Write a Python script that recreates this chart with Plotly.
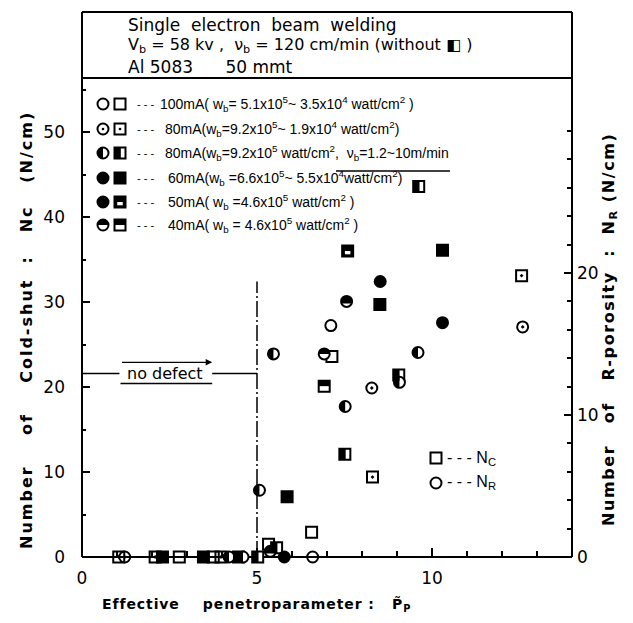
import numpy as np
import plotly.graph_objects as go

# ---------------------------------------------------------------------------
# Data: effective penetroparameter vs. defect counts
# squares -> cold-shut Nc (left axis), circles -> R-porosity Nr (right axis)
# ---------------------------------------------------------------------------
# 100 mA
p_nc_100 = [7.14, 6.56, 5.33, 2.78, 3.75]
nc_100 = [23.6, 2.9, 1.5, 0.0, 0.0]
p_nr_100 = [7.11, 6.59]
nr_100 = [16.3, 0.0]
# 80 mA (wb = 9.2e5 ~ 1.9e4)
p_nc_80 = [12.56, 8.30, 1.05, 2.09, 3.97]
nc_80 = [33.1, 9.4, 0.0, 0.0, 0.0]
p_nr_80 = [12.59, 8.28, 1.22]
nr_80 = [16.2, 11.9, 0.0]
# 80 mA, variable welding speed
p_nc_80v = [9.62, 9.05, 7.51, 5.56, 5.02, 4.47]
nc_80v = [43.6, 21.4, 12.1, 1.1, 0.0, 0.0]
p_nr_80v = [5.47, 9.60, 7.52, 5.07, 9.07, 4.20, 4.60]
nr_80v = [14.3, 14.4, 10.6, 4.7, 12.3, 0.0, 0.0]
# 60 mA
p_nc_60 = [8.51, 10.30, 5.86, 3.47, 2.30]
nc_60 = [29.7, 36.1, 7.1, 0.0, 0.0]
p_nr_60 = [8.52, 10.30, 5.78]
nr_60 = [19.4, 16.5, 0.0]
# 50 mA
p_nc_50 = [7.59]
nc_50 = [36.0]
p_nr_50 = [7.56, 5.38]
nr_50 = [18.0, 0.4]
# 40 mA
p_nc_40 = [6.92]
nc_40 = [20.1]
p_nr_40 = [6.92]
nr_40 = [14.3]

legend_texts = [
    "100mA( w<sub>b</sub>= 5.1x10<sup>5</sup>~ 3.5x10<sup>4</sup> watt/cm<sup>2</sup> )",
    "80mA(w<sub>b</sub>=9.2x10<sup>5</sup>~ 1.9x10<sup>4</sup> watt/cm<sup>2</sup>)",
    "80mA(w<sub>b</sub>=9.2x10<sup>5</sup> watt/cm<sup>2</sup>,  ν<sub>b</sub>=1.2~10m/min",
    "60mA(w<sub>b</sub> =6.6x10<sup>5</sup>~ 5.5x10<sup>4</sup>watt/cm<sup>2</sup>)",
    "50mA( w<sub>b</sub> =4.6x10<sup>5</sup> watt/cm<sup>2</sup> )",
    "40mA( w<sub>b</sub> = 4.6x10<sup>5</sup> watt/cm<sup>2</sup> )",
]

no_defect_p = 5.0       # penetroparameter limit of sound welds
no_defect_nc = 21.6     # level of the "no defect" marker line
limit_top_nc = 32.4     # upper end of the limit line

series = [
    dict(style="open", pc=p_nc_100, nc=nc_100, pr=p_nr_100, nr=nr_100),
    dict(style="dot", pc=p_nc_80, nc=nc_80, pr=p_nr_80, nr=nr_80),
    dict(style="half", pc=p_nc_80v, nc=nc_80v, pr=p_nr_80v, nr=nr_80v),
    dict(style="full", pc=p_nc_60, nc=nc_60, pr=p_nr_60, nr=nr_60),
    dict(style="e", pc=p_nc_50, nc=nc_50, pr=p_nr_50, nr=nr_50),
    dict(style="f", pc=p_nc_40, nc=nc_40, pr=p_nr_40, nr=nr_40),
]

# ---------------------------------------------------------------------------
# Geometry
# ---------------------------------------------------------------------------
W, H = 633, 623
ML, MR, MT, MB = 82, 61, 12, 58
PW, PH = W - ML - MR, H - MT - MB
ZERO_PAD = 8                      # px between plot bottom and the p-axis
NC_PX, NR_PX = 8.5, 14.2          # px per unit on left / right axes
YL = [-ZERO_PAD / NC_PX, (PH - ZERO_PAD) / NC_PX]
YR = [-ZERO_PAD / NR_PX, (PH - ZERO_PAD) / NR_PX]
AX_POS = ZERO_PAD / PH

FONT = "DejaVu Sans"
LEG_FONT = "Liberation Sans"
R = 5.5          # marker half size (px)
MSIZE = 11


def fx(px):
    return (px - ML) / PW


def fy(py):
    return (H - MB - py) / PH


def arc_path(r, t0, t1, n=28):
    ts = np.linspace(t0, t1, n)
    pts = " L ".join(f"{r*np.cos(t):.2f},{r*np.sin(t):.2f}" for t in ts)
    return "M " + pts + " Z"


def pix(kind, xref, yref, xa, ya, **kw):
    d = dict(type=kind, xref=xref, yref=yref, xsizemode="pixel",
             ysizemode="pixel", xanchor=xa, yanchor=ya, layer="above")
    d.update(kw)
    return d


def fills(style, shape, xref, yref, xa, ya):
    """Black / white inner parts of the partially filled symbols."""
    out = []
    blk = dict(fillcolor="black", line=dict(width=0))
    if shape == "circle":
        if style == "half":
            out.append(pix("path", xref, yref, xa, ya,
                           path=arc_path(R, np.pi / 2, 3 * np.pi / 2), **blk))
        elif style == "e":
            a = np.arcsin(0.4)
            out.append(pix("path", xref, yref, xa, ya,
                           path=arc_path(R, -a, np.pi + a), **blk))
        elif style == "f":
            out.append(pix("path", xref, yref, xa, ya,
                           path=arc_path(R, 0, np.pi), **blk))
    else:
        if style == "half":
            out.append(pix("rect", xref, yref, xa, ya, x0=-R, x1=0.15 * R,
                           y0=-R, y1=R, **blk))
        elif style == "e":
            out.append(pix("rect", xref, yref, xa, ya, x0=-0.5 * R, x1=0.5 * R,
                           y0=-0.6 * R, y1=0.0, fillcolor="white",
                           line=dict(width=0)))
        elif style == "f":
            out.append(pix("rect", xref, yref, xa, ya, x0=-R, x1=R,
                           y0=0, y1=R, **blk))
    return out


def icon(style, shape, xa, ya, xref="paper", yref="paper"):
    """Complete symbol drawn as shapes (used in the legend block)."""
    base_fill = "black" if style in ("full", "e") else "white"
    kind = "circle" if shape == "circle" else "rect"
    out = [pix(kind, xref, yref, xa, ya, x0=-R, x1=R, y0=-R, y1=R,
               fillcolor=base_fill, line=dict(color="black", width=2))]
    out += fills(style, shape, xref, yref, xa, ya)
    if style == "dot":
        out.append(pix("circle", xref, yref, xa, ya, x0=-1.3, x1=1.3,
                       y0=-1.3, y1=1.3, fillcolor="black",
                       line=dict(width=0)))
    return out


def marker_for(style, shape):
    sym = shape
    if style == "open":
        return dict(symbol=sym + "-open", color="black",
                    line=dict(color="black", width=2))
    if style == "dot":
        return dict(symbol=sym + "-open-dot", color="black",
                    line=dict(color="black", width=2))
    if style in ("full",) or (style == "e" and shape == "square"):
        return dict(symbol=sym, color="black",
                    line=dict(color="black", width=2))
    return dict(symbol=sym, color="white", line=dict(color="black", width=2))


fig = go.Figure()
shapes = []

for s in series:
    mk = marker_for(s["style"], "square")
    fig.add_trace(go.Scatter(x=s["pc"], y=s["nc"], mode="markers",
                             marker=dict(size=MSIZE, **mk), yaxis="y",
                             cliponaxis=False, showlegend=False))
    for xa, ya in zip(s["pc"], s["nc"]):
        shapes += fills(s["style"], "square", "x", "y", xa, ya)
    mk = marker_for(s["style"], "circle")
    fig.add_trace(go.Scatter(x=s["pr"], y=s["nr"], mode="markers",
                             marker=dict(size=MSIZE, **mk), yaxis="y2",
                             cliponaxis=False, showlegend=False))
    for xa, ya in zip(s["pr"], s["nr"]):
        shapes += fills(s["style"], "circle", "x", "y2", xa, ya)

# frame and header box
LW = 2
shapes += [
    dict(type="line", xref="paper", yref="paper", x0=0, x1=0, y0=AX_POS, y1=1,
         line=dict(color="black", width=LW), layer="above"),
    dict(type="line", xref="paper", yref="paper", x0=1, x1=1, y0=AX_POS, y1=1,
         line=dict(color="black", width=LW), layer="above"),
    dict(type="line", xref="paper", yref="paper", x0=0, x1=1, y0=1, y1=1,
         line=dict(color="black", width=LW), layer="above"),
    dict(type="line", xref="paper", yref="paper", x0=0, x1=1, y0=fy(78),
         y1=fy(78), line=dict(color="black", width=LW), layer="above"),
]

# "no defect" limit lines
shapes += [
    dict(type="line", xref="x", yref="y", x0=no_defect_p, x1=no_defect_p,
         y0=0, y1=limit_top_nc, line=dict(color="black", width=1.5,
                                          dash="16px,3px,2px,3px")),
    dict(type="line", xref="x", yref="y", x0=0, x1=1.07, y0=no_defect_nc,
         y1=no_defect_nc, line=dict(color="black", width=1.5)),
    dict(type="line", xref="x", yref="y", x0=3.72, x1=no_defect_p,
         y0=no_defect_nc, y1=no_defect_nc, line=dict(color="black", width=1.5)),
    dict(type="line", xref="x", yref="y", x0=1.1, x1=3.72, y0=20.4,
         y1=20.4, line=dict(color="black", width=1.5)),
]

# legend block
leg_y = [104, 129, 153, 178, 202, 225]
leg_tx = [158, 163, 163, 166, 166, 166]
annotations = []
for s, py, tx, txt in zip(series, leg_y, leg_tx, legend_texts):
    shapes += icon(s["style"], "circle", fx(103), fy(py))
    shapes += icon(s["style"], "square", fx(120), fy(py))
    annotations.append(dict(x=fx(135), y=fy(py), xref="paper", yref="paper",
                            text="- - -", showarrow=False, xanchor="left",
                            yanchor="middle",
                            font=dict(size=11, family=LEG_FONT)))
    annotations.append(dict(x=fx(tx), y=fy(py), xref="paper", yref="paper",
                            text=txt, showarrow=False, xanchor="left",
                            yanchor="middle",
                            font=dict(size=14, family=LEG_FONT)))
# underline of the speed range
shapes.append(dict(type="line", xref="paper", yref="paper", x0=fx(336),
                   x1=fx(450), y0=fy(171), y1=fy(171),
                   line=dict(color="black", width=1.5)))

# Nc / Nr key
shapes += icon("open", "square", fx(436), fy(458))
shapes += icon("open", "circle", fx(436), fy(483))
annotations += [
    dict(x=fx(445), y=fy(458), xref="paper", yref="paper",
         text="- - - N<sub>C</sub>", showarrow=False, xanchor="left",
         yanchor="middle", font=dict(size=16, family=LEG_FONT)),
    dict(x=fx(445), y=fy(483), xref="paper", yref="paper",
         text="- - - N<sub>R</sub>", showarrow=False, xanchor="left",
         yanchor="middle", font=dict(size=16, family=LEG_FONT)),
]

nb = "\u00a0"
# header
annotations += [
    dict(x=fx(126), y=fy(25), xref="paper", yref="paper",
         text=f"Single{nb*2}electron{nb*2}beam{nb*2}welding",
         showarrow=False, xanchor="left", yanchor="middle",
         font=dict(size=17)),
    dict(x=fx(126), y=fy(46), xref="paper", yref="paper",
         text=f"V<sub>b</sub> = 58 kv ,{nb*2}ν<sub>b</sub> = 120 cm/min (without ◧ )",
         showarrow=False, xanchor="left", yanchor="middle",
         font=dict(size=16)),
    dict(x=fx(126), y=fy(67), xref="paper", yref="paper",
         text=f"Al 5083{nb*6}50 mmt",
         showarrow=False, xanchor="left", yanchor="middle",
         font=dict(size=17)),
]

# "no defect" label and arrow
annotations += [
    dict(x=2.38, y=no_defect_nc, xref="x", yref="y", text="no defect",
         showarrow=False, xanchor="center", yanchor="middle",
         font=dict(size=16)),
    dict(x=3.72, y=22.9, ax=1.1, ay=22.9, xref="x", yref="y", axref="x",
         ayref="y", text="", showarrow=True, arrowhead=2, arrowsize=1,
         arrowwidth=1.3, arrowcolor="black"),
]


def spaced(t, ls):
    return f'<span style="letter-spacing:{ls}px">{t}</span>'


# axis titles
annotations += [
    dict(x=fx(100), y=fy(605), xref="paper", yref="paper",
         text=spaced(f"Effective{nb*4}penetroparameter :{nb*3}P\u0303<sub>P</sub>", 0.9),
         showarrow=False, xanchor="left", yanchor="middle",
         font=dict(size=14, weight="bold")),
    dict(x=fx(26), y=fy(330), xref="paper", yref="paper", textangle=-90,
         text=spaced(f"Number{nb*4}of{nb*4}Cold-shut{nb*2}:{nb*3}Nc{nb*3}(N/cm)", 2.0),
         showarrow=False, xanchor="center", yanchor="middle",
         font=dict(size=16, weight="bold")),
    dict(x=fx(609), y=fy(330), xref="paper", yref="paper", textangle=-90,
         text=spaced(f"Number{nb*3}of{nb*3}R-porosity{nb*2}:{nb*2}N<sub>R</sub> (N/cm)", 1.6),
         showarrow=False, xanchor="center", yanchor="middle",
         font=dict(size=16, weight="bold")),
]

fig.update_layout(
    width=W, height=H,
    margin=dict(l=ML, r=MR, t=MT, b=MB, pad=0),
    paper_bgcolor="white", plot_bgcolor="white",
    font=dict(family=FONT, color="black"),
    showlegend=False,
    shapes=shapes,
    annotations=annotations,
    xaxis=dict(range=[0, 14], anchor="free", position=AX_POS,
               showgrid=False, zeroline=False, showline=True, linewidth=2,
               linecolor="black", layer="below traces",
               tickmode="array", tickvals=[0, 5, 10], ticks="inside",
               ticklen=8, tickwidth=1.5, tickcolor="black",
               tickfont=dict(size=17), ticklabelstandoff=6,
               minor=dict(tickmode="array",
                          tickvals=[1, 2, 3, 4, 6, 7, 8, 9, 11, 12, 13],
                          ticks="inside", ticklen=5, tickwidth=1.5,
                          tickcolor="black")),
    yaxis=dict(range=YL, showgrid=False, zeroline=False, showline=False,
               tickmode="array", tickvals=[0, 10, 20, 30, 40, 50],
               ticks="inside", ticklen=8, tickwidth=1.5, tickcolor="black",
               tickfont=dict(size=17), ticklabelstandoff=16,
               minor=dict(tickmode="array",
                          tickvals=[5, 15, 25, 35, 45, 55],
                          ticks="inside", ticklen=4, tickwidth=1.5,
                          tickcolor="black")),
    yaxis2=dict(range=YR, overlaying="y", side="right", showgrid=False,
                zeroline=False, showline=False, tickmode="array",
                tickvals=[0, 10, 20], ticks="inside", ticklen=8,
                tickwidth=1.5, tickcolor="black", tickfont=dict(size=17),
                ticklabelstandoff=4,
                minor=dict(tickmode="array",
                           tickvals=list(range(2, 31, 2)),
                           ticks="inside", ticklen=5, tickwidth=1.5,
                           tickcolor="black")),
)

fig.write_html("out.html")
